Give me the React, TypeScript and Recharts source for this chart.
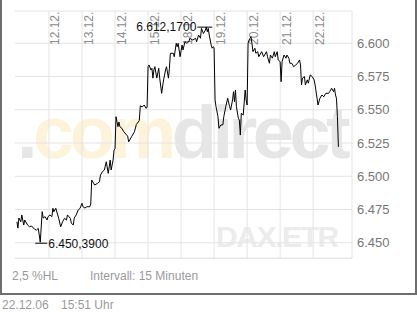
import { LineChart, Line, XAxis, YAxis, CartesianGrid, ReferenceLine } from 'recharts';

// 15-minute bars, [slot in trading day, DAX points]
const BARS_PER_DAY = 34;
const dayLabels = ['11.12.', '12.12.', '13.12.', '14.12.', '15.12.', '18.12.', '19.12.', '20.12.', '21.12.', '22.12.'];

const d11: [number, number][] = [[1, 6465.8], [2, 6461.0], [3, 6468.6], [5, 6465.8], [6, 6470.9], [8, 6463.3], [9, 6467.1], [12, 6463.3], [14, 6462.0], [16, 6462.6], [19, 6460.3], [21, 6459.5], [23, 6460.8], [25, 6450.39], [27, 6473.4], [28, 6468.6], [30, 6469.6], [32, 6467.1], [33, 6469.6]];
const d12: [number, number][] = [[1, 6470.9], [3, 6469.6], [4, 6475.9], [5, 6473.3], [7, 6475.9], [9, 6470.9], [10, 6468.4], [12, 6462.0], [14, 6465.8], [16, 6468.4], [18, 6467.1], [19, 6470.9], [22, 6468.4], [23, 6464.8], [25, 6463.3], [26, 6468.6], [28, 6470.9], [30, 6474.6], [32, 6475.9]];
const d13: [number, number][] = [[0, 6479.7], [1, 6477.1], [3, 6476.1], [5, 6477.1], [8, 6477.1], [9, 6479.1], [10, 6497.2], [12, 6494.7], [13, 6493.4], [16, 6494.7], [18, 6495.9], [19, 6500.9], [21, 6503.4], [23, 6504.7], [25, 6510.9], [27, 6502.2], [29, 6512.2], [30, 6504.7], [32, 6512.2], [33, 6519.7]];
const d14: [number, number][] = [[0, 6520.8], [1, 6544.8], [2, 6541.0], [3, 6537.3], [4, 6540.8], [5, 6537.3], [7, 6536.1], [9, 6533.5], [12, 6531.0], [13, 6530.2], [14, 6525.9], [17, 6529.7], [20, 6533.5], [22, 6539.0], [25, 6541.9], [26, 6553.0], [28, 6552.1], [30, 6553.6], [32, 6551.1], [33, 6552.1]];
const d15: [number, number][] = [[0, 6582.4], [1, 6583.7], [3, 6579.9], [4, 6581.2], [5, 6573.8], [6, 6579.9], [7, 6582.4], [9, 6573.8], [11, 6581.2], [12, 6573.8], [14, 6562.4], [16, 6572.5], [18, 6579.9], [19, 6582.4], [21, 6573.8], [22, 6581.2], [23, 6592.5], [26, 6592.5], [27, 6589.9], [29, 6600.0], [30, 6597.4], [31, 6600.0], [33, 6589.9]];
const d18: [number, number][] = [[1, 6598.7], [2, 6595.0], [4, 6601.2], [6, 6600.0], [8, 6601.2], [9, 6603.8], [12, 6602.5], [15, 6603.8], [16, 6601.2], [18, 6606.2], [20, 6603.8], [21, 6611.2], [23, 6607.4], [25, 6609.9], [26, 6612.17], [27, 6608.7], [28, 6611.2], [29, 6606.2], [31, 6598.7], [32, 6596.3], [33, 6597.4]];
const d19: [number, number][] = [[0, 6596.8], [1, 6557.4], [2, 6552.3], [4, 6544.8], [5, 6536.1], [7, 6538.6], [9, 6538.6], [10, 6544.8], [12, 6552.3], [14, 6558.7], [16, 6552.3], [17, 6549.8], [19, 6557.4], [20, 6563.6], [21, 6556.1], [22, 6564.9], [23, 6552.3], [25, 6543.6], [26, 6542.3], [27, 6531.0], [28, 6547.3], [30, 6546.1], [32, 6564.9], [33, 6557.4]];
const d20: [number, number][] = [[0, 6553.6], [1, 6600.0], [2, 6602.5], [4, 6605.0], [5, 6600.0], [6, 6593.7], [8, 6596.3], [9, 6592.5], [11, 6593.7], [12, 6589.9], [15, 6593.7], [17, 6589.9], [18, 6591.2], [20, 6593.7], [21, 6589.9], [23, 6585.0], [24, 6591.2], [26, 6588.8], [28, 6593.7], [29, 6589.9], [31, 6593.7], [32, 6587.5]];
const d21: [number, number][] = [[0, 6586.2], [1, 6571.1], [2, 6586.2], [4, 6591.2], [6, 6588.8], [7, 6591.2], [9, 6588.8], [10, 6585.0], [12, 6585.0], [14, 6582.4], [16, 6583.7], [18, 6585.0], [20, 6587.5], [21, 6583.7], [22, 6568.7], [23, 6573.8], [25, 6575.0], [26, 6568.7], [28, 6572.5], [29, 6570.0], [31, 6576.2], [33, 6575.0]];
const d22: [number, number][] = [[1, 6572.5], [2, 6568.7], [4, 6558.7], [5, 6553.6], [7, 6558.7], [9, 6561.1], [11, 6559.8], [13, 6562.4], [16, 6562.4], [17, 6563.6], [19, 6566.2], [21, 6563.6], [22, 6566.2], [23, 6561.1], [24, 6558.7], [25, 6544.8], [26, 6522.1]];

const yTicks = [6450, 6475, 6500, 6525, 6550, 6575, 6600];
const Y_MIN = 6438.3;
const Y_MAX = 6624.3;

const days = [d11, d12, d13, d14, d15, d18, d19, d20, d21, d22];
const data = days.flatMap((d, di) => d.map(([slot, price]) => ({ t: di * BARS_PER_DAY + slot, price })));
const dayStarts = dayLabels.map((_, i) => i * BARS_PER_DAY).slice(1);

const prices = data.map((d) => d.price);
const lowIdx = prices.indexOf(Math.min(...prices));
const highIdx = prices.indexOf(Math.max(...prices));

const FONT = '"Liberation Sans", Arial, sans-serif';
const GRID = '#e4e4e4';

// german number format, e.g. 6.450,3900
function fmt(v: number, digits: number) {
  const [int, frac] = v.toFixed(digits).split('.');
  const grouped = int.replace(/\B(?=(\d{3})+(?!\d))/g, '.');
  return frac ? `${grouped},${frac}` : grouped;
}

const dayLabel = (text: string) => (props: any) => {
  const { x, y } = props.viewBox;
  return (
    <text transform={`translate(${x + 10.5},${y + 34}) rotate(-90)`} fill="#8c8c8c" fontSize={12} fontFamily={FONT}>
      {text}
    </text>
  );
};

const renderDot = (props: any) => {
  const { cx, cy, index } = props;
  if (index === lowIdx) {
    return (
      <g key={`dot-${index}`}>
        <line x1={cx - 5} x2={cx + 7} y1={cy + 1} y2={cy + 1} stroke="#000" />
        <text x={cx + 8} y={cy + 1} dy="0.36em" fontSize={12} fontFamily={FONT} fill="#111">
          {fmt(data[index].price, 4)}
        </text>
      </g>
    );
  }
  if (index === highIdx) {
    return (
      <g key={`dot-${index}`}>
        <line x1={cx - 9} x2={cx + 6} y1={cy} y2={cy} stroke="#000" />
        <text x={cx - 10} y={cy} dy="0.36em" textAnchor="end" fontSize={12} fontFamily={FONT} fill="#111">
          {fmt(data[index].price, 4)}
        </text>
      </g>
    );
  }
  return <g key={`dot-${index}`} />;
};

export default function App() {
  return (
    <div style={{ position: 'absolute', left: 0, top: 0, width: 417, height: 312, background: '#fff', fontFamily: FONT }}>
      <svg width={417} height={312} style={{ position: 'absolute', left: 0, top: 0 }}>
        <text x={17} y={158} fontSize={74} fontWeight="bold" letterSpacing={-4.5} fontFamily={FONT}>
          <tspan fill="#e6e6e6">.</tspan>
          <tspan fill="#fcf3da">com</tspan>
          <tspan fill="#e6e6e6">direct</tspan>
        </text>
        <text x={216} y={247} fontSize={30} fontWeight="bold" letterSpacing={-1.4} fill="#ececec" fontFamily={FONT}>
          DAX.ETR
        </text>
        <text x={12} y={280} fontSize={12} fill="#9a9a9a" fontFamily={FONT}>2,5 %HL</text>
        <text x={90} y={280} fontSize={12} fill="#9a9a9a" fontFamily={FONT}>Intervall: 15 Minuten</text>
        <text x={2} y={309} fontSize={12} fill="#9a9a9a" fontFamily={FONT}>22.12.06</text>
        <text x={61} y={309} fontSize={12} fill="#9a9a9a" fontFamily={FONT}>15:51 Uhr</text>
      </svg>
      <div
        style={{
          position: 'absolute',
          left: 0,
          top: 0,
          width: 417,
          height: 295,
          boxSizing: 'border-box',
          borderLeft: '2px solid #6e6e6e',
          borderRight: '2px solid #6e6e6e',
          borderBottom: '2px solid #6e6e6e',
        }}
      />
      <div style={{ position: 'absolute', left: 0, top: 0 }}>
        <LineChart width={417} height={293} data={data} margin={{ top: 11, right: 0, bottom: 34.7, left: 15 }}>
          <CartesianGrid stroke={GRID} vertical={false} />
          <XAxis type="number" dataKey="t" domain={[-1, 346]} allowDataOverflow hide />
          <YAxis
            orientation="right"
            type="number"
            domain={[Y_MIN, Y_MAX]}
            ticks={yTicks}
            allowDataOverflow
            width={65}
            axisLine={{ stroke: GRID }}
            tickLine={false}
            tickSize={0}
            tickMargin={5}
            tick={{ fill: '#777', fontSize: 13, fontFamily: FONT }}
            tickFormatter={(v: number) => fmt(v, 0)}
          />
          <ReferenceLine y={Y_MIN} stroke={GRID} />
          {dayStarts.map((t, i) => (
            <ReferenceLine key={t} x={t} stroke={GRID} label={{ content: dayLabel(dayLabels[i + 1]) }} />
          ))}
          <Line
            type="linear"
            dataKey="price"
            stroke="#000"
            strokeWidth={1}
            dot={renderDot}
            activeDot={false}
            isAnimationActive={false}
          />
        </LineChart>
      </div>
    </div>
  );
}
